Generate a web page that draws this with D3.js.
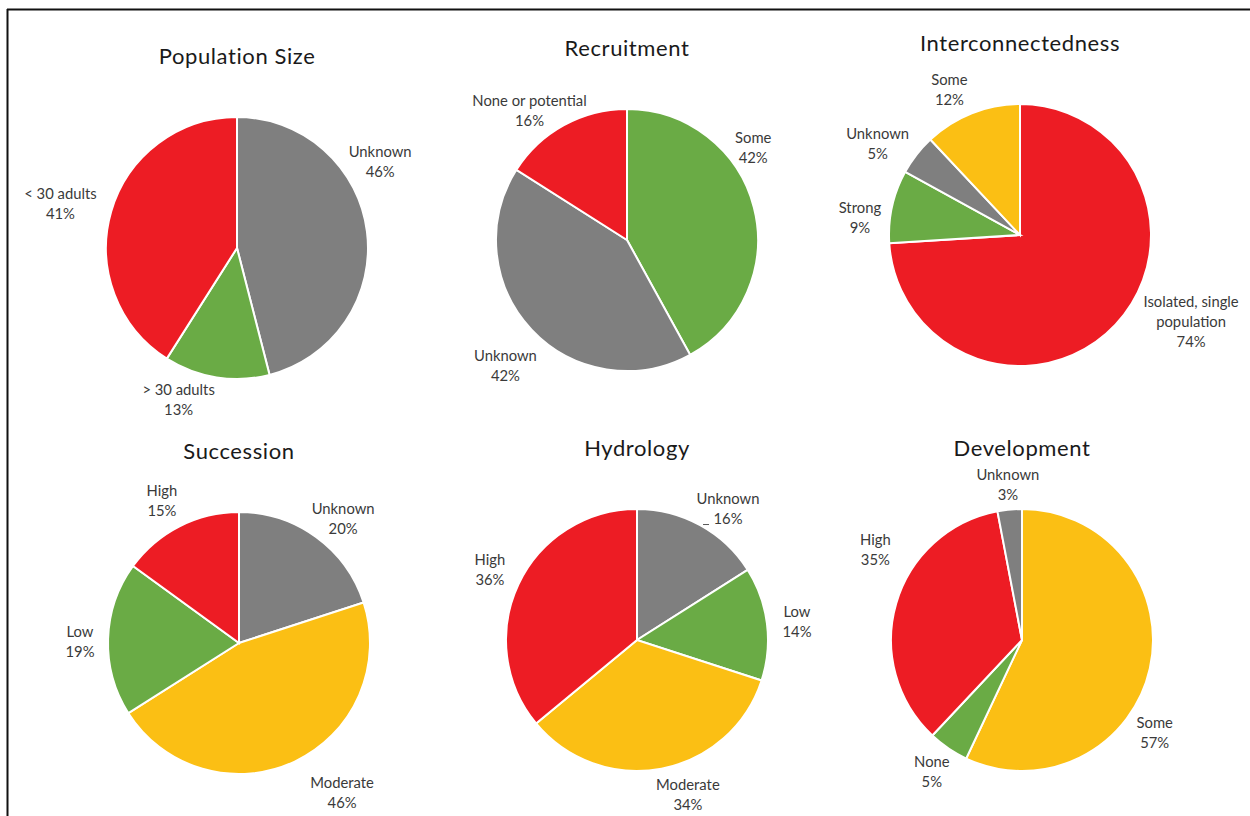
<!DOCTYPE html>
<html>
<head>
<meta charset="utf-8">
<script src="https://cdn.jsdelivr.net/npm/d3@7"></script>
<style>
  body { margin: 0; background: #fff; }
  svg text { font-family: Lato, "Open Sans", sans-serif; }
</style>
</head>
<body>
<div id="chart"></div>
<script>
// SETUP
////////////////////////////
var width = 1250,
    height = 816,
    radius = 131;

// DATA (one set of arrays per pie)
////////////////////////////
var titles = ['Population Size', 'Recruitment', 'Interconnectedness',
              'Succession', 'Hydrology', 'Development'];

var popLabels  = [['Unknown'], ['> 30 adults'], ['< 30 adults']];
var popValues  = [46, 13, 41];
var popColors  = ['gray', 'green', 'red'];

var recLabels  = [['Some'], ['Unknown'], ['None or potential']];
var recValues  = [42, 42, 16];
var recColors  = ['green', 'gray', 'red'];

var intLabels  = [['Isolated, single', 'population'], ['Strong'], ['Unknown'], ['Some']];
var intValues  = [74, 9, 5, 12];
var intColors  = ['red', 'green', 'gray', 'yellow'];

var sucLabels  = [['Unknown'], ['Moderate'], ['Low'], ['High']];
var sucValues  = [20, 46, 19, 15];
var sucColors  = ['gray', 'yellow', 'green', 'red'];

var hydLabels  = [['Unknown'], ['Low'], ['Moderate'], ['High']];
var hydValues  = [16, 14, 34, 36];
var hydColors  = ['gray', 'green', 'yellow', 'red'];

var devLabels  = [['Some'], ['None'], ['High'], ['Unknown']];
var devValues  = [57, 5, 35, 3];
var devColors  = ['yellow', 'green', 'red', 'gray'];

// LAYOUT (pie centres, label spots as [angle deg, distance])
////////////////////////////
var centers = [[237, 248], [627, 240], [1020, 235],
               [239, 643], [637, 640], [1022, 640]];
var labelSpots = [
  [[59, 167], [201, 163], [284, 182]],
  [[54, 156], [224, 175], [323, 162]],
  [[117, 192], [276, 161], [302.6, 169], [334, 161]],
  [[40, 162], [145.5, 182], [270.4, 159], [331.5, 161.5]],
  [[34.8, 159.5], [83.6, 161], [161.8, 163], [295.5, 163]],
  [[125, 162], [214.3, 160], [301.5, 172], [354.8, 156]]
];

var palette = { red: '#ed1c24', gray: '#7f7f7f', green: '#6aab45', yellow: '#fbbf14' };

var charts = [
  { labels: popLabels, values: popValues, colors: popColors },
  { labels: recLabels, values: recValues, colors: recColors },
  { labels: intLabels, values: intValues, colors: intColors },
  { labels: sucLabels, values: sucValues, colors: sucColors },
  { labels: hydLabels, values: hydValues, colors: hydColors },
  { labels: devLabels, values: devValues, colors: devColors }
];

var svg = d3.select('#chart').append('svg')
    .attr('width', width)
    .attr('height', height);

// frame lines (top + left only, as in the figure)
svg.append('line').attr('x1', 7).attr('x2', width).attr('y1', 9.5).attr('y2', 9.5)
    .attr('stroke', '#111').attr('stroke-width', 2);
svg.append('line').attr('x1', 7.5).attr('x2', 7.5).attr('y1', 9).attr('y2', height)
    .attr('stroke', '#111').attr('stroke-width', 2);

var pie = d3.pie().sort(null).value(function(d) { return d; });
var arc = d3.arc().innerRadius(0).outerRadius(radius);

charts.forEach(function(c, i) {
  var g = svg.append('g')
      .attr('transform', 'translate(' + centers[i][0] + ',' + centers[i][1] + ')');

  // title
  g.append('text')
      .attr('x', 0)
      .attr('y', -184)
      .attr('text-anchor', 'middle')
      .attr('font-size', 22)
      .attr('letter-spacing', 0.6)
      .attr('fill', '#1a1a1a')
      .text(titles[i]);

  // slices
  g.selectAll('path.slice')
    .data(pie(c.values))
    .enter().append('path')
      .attr('class', 'slice')
      .attr('d', arc)
      .attr('fill', function(d, j) { return palette[c.colors[j]]; })
      .attr('stroke', '#fff')
      .attr('stroke-width', 2);

  // labels: name lines + percentage
  c.values.forEach(function(v, j) {
    var spot = labelSpots[i][j];
    var a = spot[0] * Math.PI / 180;
    var pos = d3.arc().innerRadius(spot[1]).outerRadius(spot[1])
        .centroid({ startAngle: a, endAngle: a });
    var lines = c.labels[j].concat([v + '%']);
    var lh = 20;
    var y0 = pos[1] - (lines.length - 1) * lh / 2 + 5;
    var t = g.append('text')
        .attr('text-anchor', 'middle')
        .attr('font-size', 14.8)
        .attr('fill', '#3a3a3a');
    lines.forEach(function(s, k) {
      t.append('tspan').attr('x', pos[0]).attr('y', y0 + k * lh).text(s);
    });
    // short leader stub on Hydrology "Unknown"
    if (i === 4 && j === 0) {
      g.append('line')
          .attr('x1', pos[0] - 25).attr('x2', pos[0] - 19)
          .attr('y1', y0 + lh + 0.5).attr('y2', y0 + lh + 0.5)
          .attr('stroke', '#595959').attr('stroke-width', 1);
    }
  });
});
</script>
</body>
</html>
